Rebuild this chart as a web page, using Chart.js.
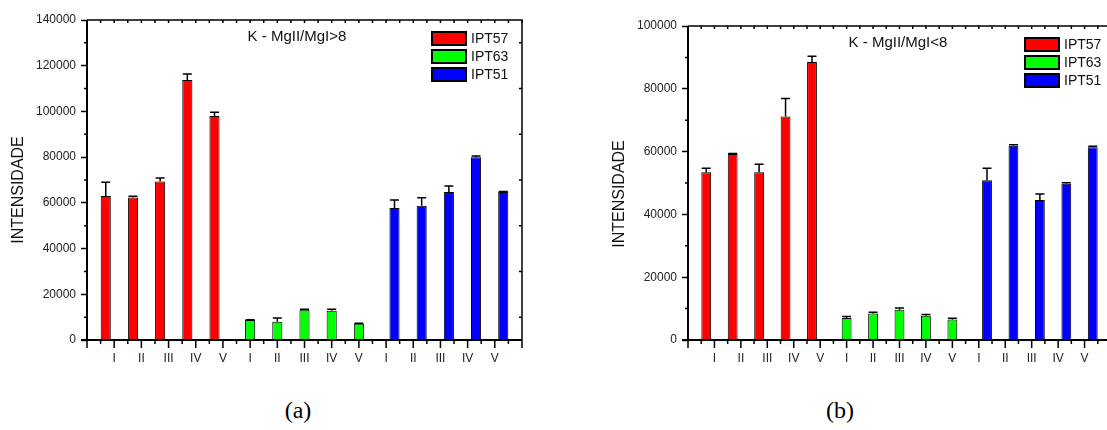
<!DOCTYPE html>
<html>
<head>
<meta charset="utf-8">
<script src="https://cdn.jsdelivr.net/npm/chart.js@4.4.1/dist/chart.umd.min.js"></script>
<style>
  html, body { margin: 0; padding: 0; width: 1107px; height: 430px; overflow: hidden; background: #fff; }
  canvas { position: absolute; top: 0; }
  .caption { position: absolute; top: 396px; font-family: "Liberation Serif", "Times New Roman", serif; font-size: 24px; line-height: 28px; color: #000; transform: translateX(-50%); }
</style>
</head>
<body>
<canvas id="chartA" width="540" height="380" style="left:0px"></canvas>
<canvas id="chartB" width="560" height="380" style="left:560px"></canvas>
<div class="caption" style="left:298px">(a)</div>
<div class="caption" style="left:840px">(b)</div>

<script>
// rótulos das amostras (I..V) repetidos para cada grupo
const groupLabels = ["I", "II", "III", "IV", "V"];
const categories = ["", ...groupLabels, ...groupLabels, ...groupLabels, ""];
const seriesNames = ["IPT57", "IPT63", "IPT51"];
const seriesColors = ["#ff0000", "#00ff00", "#0000ff"];

// (a) K - MgII/MgI>8
const ipt57A = [63000, 62300, 69300, 113800, 98000];
const err57A = [6000, 600, 1600, 2600, 1600];
const ipt63A = [8700, 8000, 13200, 12800, 7100];
const err63A = [200, 1600, 200, 600, 200];
const ipt51A = [57700, 58700, 64800, 80000, 64700];
const err51A = [3500, 3500, 2600, 500, 300];

// (b) K - MgII/MgI<8
const ipt57B = [53400, 59200, 53400, 71200, 88500];
const err57B = [1300, 200, 2600, 5700, 1900];
const ipt63B = [7000, 8400, 9600, 7700, 6500];
const err63B = [500, 400, 600, 400, 400];
const ipt51B = [50900, 61900, 44600, 49800, 61400];
const err51B = [3800, 300, 1900, 300, 300];

const fontFamily = "'Liberation Sans', Arial, sans-serif";

// coloca os 5 valores de uma série na posição do seu grupo (0, 1 ou 2)
function place(values, group) {
    const arr = new Array(categories.length).fill(null);
    values.forEach((v, i) => { arr[1 + group * 5 + i] = v; });
    return arr;
}

// barras de erro (só para cima, estilo Origin)
const errorBarPlugin = {
    id: "errorBars",
    afterDatasetsDraw(chart) {
        const { ctx } = chart;
        const yScale = chart.scales.y;
        ctx.save();
        ctx.strokeStyle = "#000";
        ctx.lineWidth = 1.5;
        chart.data.datasets.forEach((ds, di) => {
            const meta = chart.getDatasetMeta(di);
            meta.data.forEach((bar, i) => {
                const v = ds.data[i];
                const e = ds.errors[i];
                if (v === null || e === null) return;
                const yTop = yScale.getPixelForValue(v + e);
                ctx.beginPath();
                ctx.moveTo(bar.x, bar.y);
                ctx.lineTo(bar.x, yTop);
                ctx.moveTo(bar.x - 4.5, yTop);
                ctx.lineTo(bar.x + 4.5, yTop);
                ctx.stroke();
            });
        });
        ctx.restore();
    }
};

// moldura, ticks menores, título, legenda e título do eixo y
const decorPlugin = {
    id: "decor",
    afterDraw(chart, args, opts) {
        const { ctx, chartArea: a } = chart;
        const { x, y } = chart.scales;
        ctx.save();
        ctx.strokeStyle = "#000";

        ctx.lineWidth = 1.5;
        ctx.beginPath();
        ctx.moveTo(a.left, a.top);
        ctx.lineTo(a.right, a.top);
        ctx.lineTo(a.right, a.bottom);
        ctx.stroke();

        ctx.lineWidth = 2;
        ctx.beginPath();
        ctx.moveTo(a.left, a.top);
        ctx.lineTo(a.left, a.bottom);
        ctx.moveTo(a.left - 6, a.bottom);
        ctx.lineTo(a.right, a.bottom);
        ctx.stroke();

        // ticks menores do eixo y
        ctx.lineWidth = 1.5;
        ctx.beginPath();
        for (let v = opts.minor; v < y.max; v += opts.minor * 2) {
            const py = y.getPixelForValue(v);
            ctx.moveTo(a.left - 3, py);
            ctx.lineTo(a.left, py);
            ctx.moveTo(a.right - 3, py);
            ctx.lineTo(a.right, py);
        }
        // ticks do eixo x (longos nos inteiros, curtos nas metades)
        for (let i = 0; i < categories.length; i++) {
            const px = x.getPixelForValue(i);
            ctx.moveTo(px, a.bottom);
            ctx.lineTo(px, a.bottom + 8);
            ctx.moveTo(px, a.top);
            ctx.lineTo(px, a.top + 3);
            if (i < categories.length - 1) {
                const hx = x.getPixelForValue(i + 0.5);
                ctx.moveTo(hx, a.bottom);
                ctx.lineTo(hx, a.bottom + 4);
                ctx.moveTo(hx, a.top);
                ctx.lineTo(hx, a.top + 3);
            }
        }
        ctx.stroke();

        // título dentro do gráfico
        ctx.fillStyle = "#111";
        ctx.font = "15px " + fontFamily;
        ctx.textAlign = "center";
        ctx.textBaseline = "middle";
        ctx.fillText(opts.title, a.left + opts.titleDx, a.top + opts.titleDy);

        // legenda
        ctx.font = "14px " + fontFamily;
        ctx.textAlign = "left";
        chart.data.datasets.forEach((ds, i) => {
            const lx = a.left + opts.legendDx;
            const ly = a.top + opts.legendDy + i * 18;
            ctx.fillStyle = ds.backgroundColor;
            ctx.fillRect(lx, ly, 34, 13);
            ctx.lineWidth = 2;
            ctx.strokeRect(lx, ly, 34, 13);
            ctx.fillStyle = "#111";
            ctx.fillText(ds.label, lx + 39, ly + 7);
        });

        // título do eixo y
        ctx.translate(opts.yTitleX, opts.yTitleY);
        ctx.rotate(-Math.PI / 2);
        ctx.font = "16px " + fontFamily;
        ctx.textAlign = "center";
        ctx.fillStyle = "#111";
        ctx.fillText("INTENSIDADE", 0, 0);
        ctx.restore();
    }
};

function makeChart(canvasId, series, errors, cfg) {
    const ctx = document.getElementById(canvasId).getContext("2d");
    return new Chart(ctx, {
        type: "bar",
        data: {
            labels: categories,
            datasets: series.map((values, g) => ({
                label: seriesNames[g],
                data: place(values, g),
                errors: place(errors[g], g),
                backgroundColor: seriesColors[g],
                borderColor: "#000",
                borderWidth: 1,
                categoryPercentage: 0.93,
                barPercentage: 1.2,
            })),
        },
        options: {
            responsive: false,
            animation: false,
            events: [],
            layout: { padding: { top: cfg.padTop, right: cfg.padRight, left: 0, bottom: 0 } },
            scales: {
                x: {
                    offset: false,
                    border: { display: false },
                    grid: { display: false, drawTicks: true, tickLength: 8 },
                    ticks: {
                        color: "#222",
                        font: { family: fontFamily, size: 12 },
                        padding: 3,
                        maxRotation: 0,
                        autoSkip: false,
                    },
                    afterFit: (scale) => { scale.height = 40; },
                },
                y: {
                    min: 0,
                    max: cfg.yMax,
                    border: { display: false },
                    grid: { drawOnChartArea: false, drawTicks: true, tickLength: 6, tickColor: "#000", tickWidth: 1.5 },
                    ticks: {
                        stepSize: 20000,
                        color: "#222",
                        font: { family: fontFamily, size: 12 },
                        padding: 5,
                        callback: (value) => String(value),
                    },
                    afterFit: (scale) => { scale.width = cfg.yWidth; },
                },
            },
            plugins: {
                legend: { display: false },
                tooltip: { enabled: false },
                decor: {
                    minor: 10000,
                    title: cfg.title,
                    titleDx: 210,
                    titleDy: 17,
                    legendDx: cfg.legendDx,
                    legendDy: 12,
                    yTitleX: cfg.yTitleX,
                    yTitleY: cfg.yTitleY,
                },
            },
        },
        plugins: [errorBarPlugin, decorPlugin],
    });
}

makeChart("chartA", [ipt57A, ipt63A, ipt51A], [err57A, err63A, err51A], {
    yMax: 140000, padTop: 20, padRight: 18, yWidth: 87,
    title: "K - MgII/MgI>8", legendDx: 345, yTitleX: 19, yTitleY: 190,
});

makeChart("chartB", [ipt57B, ipt63B, ipt51B], [err57B, err63B, err51B], {
    yMax: 100000, padTop: 26, padRight: 9, yWidth: 128,
    title: "K - MgII/MgI<8", legendDx: 337, yTitleX: 60, yTitleY: 194,
});
</script>
</body>
</html>
